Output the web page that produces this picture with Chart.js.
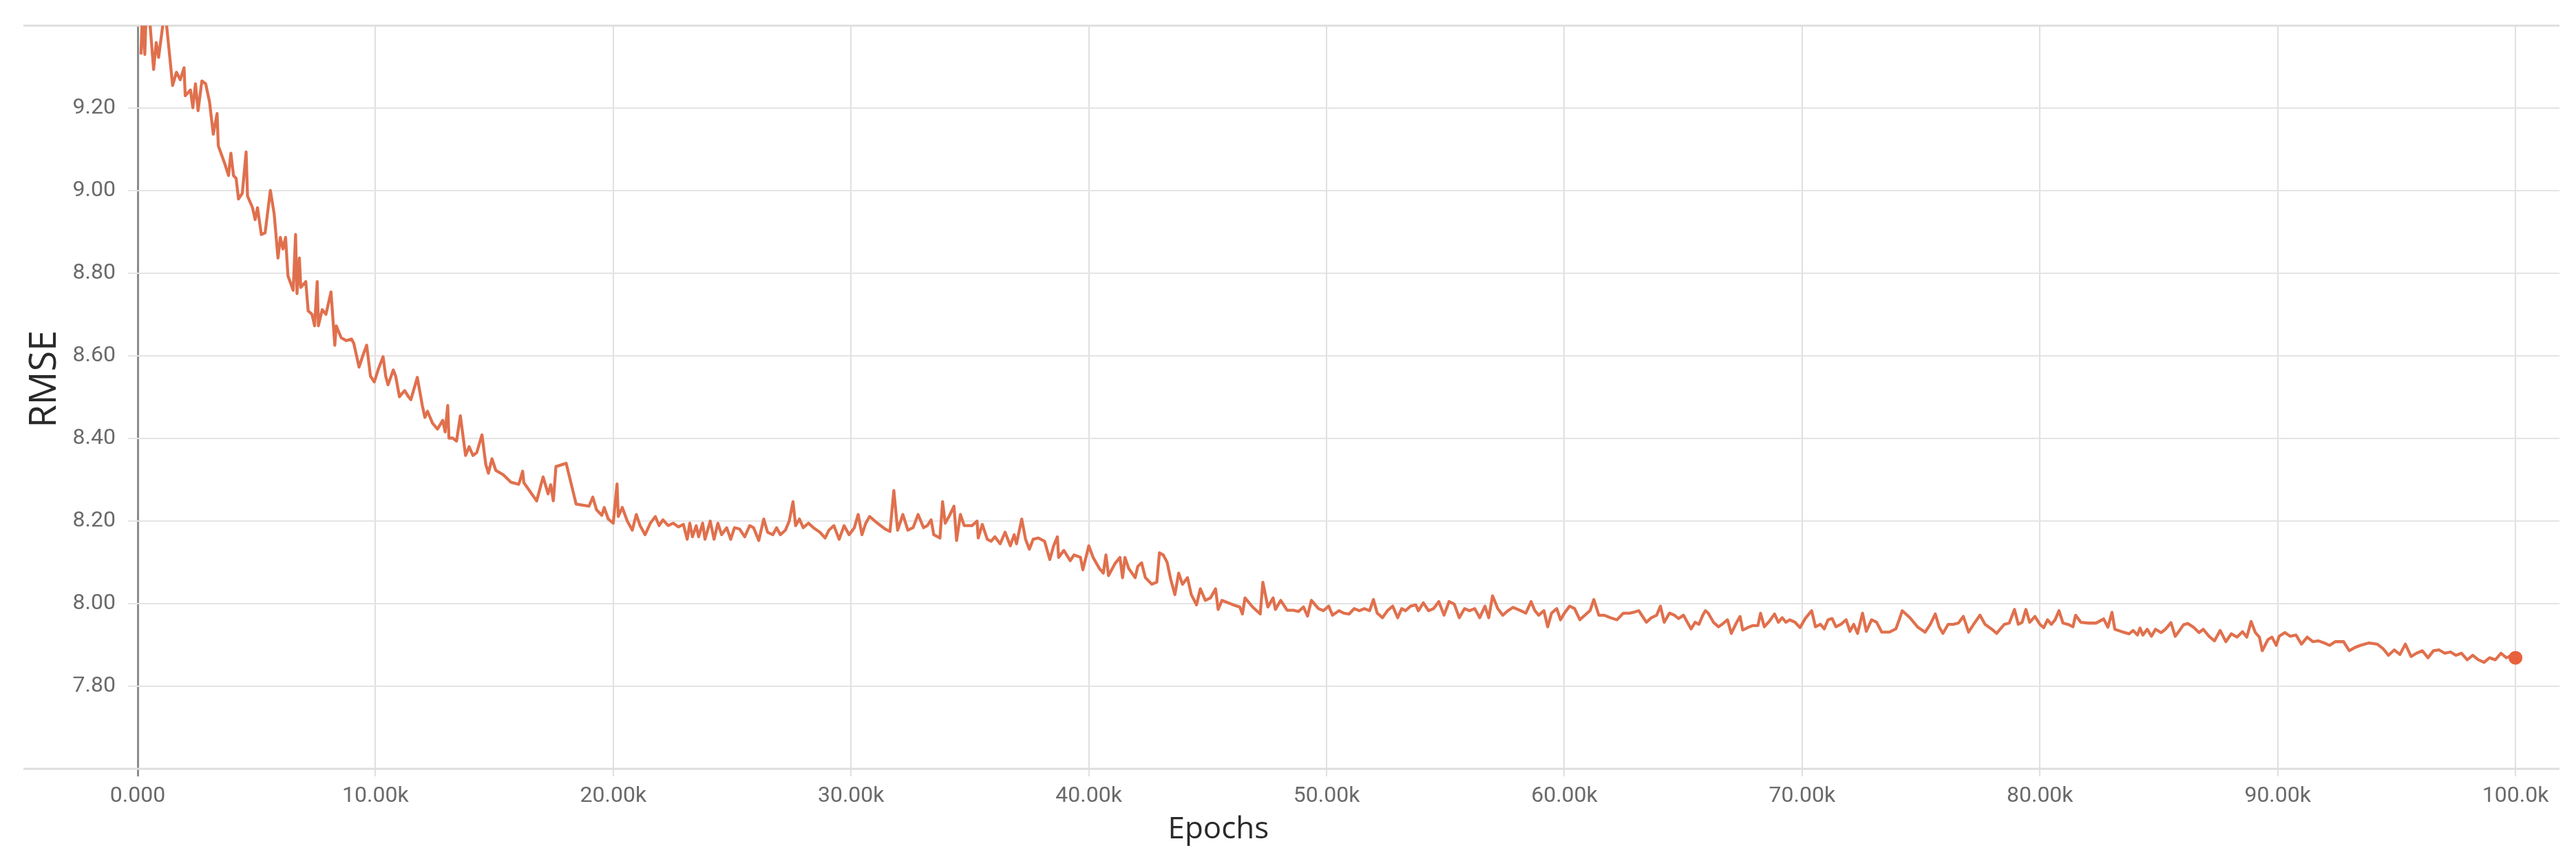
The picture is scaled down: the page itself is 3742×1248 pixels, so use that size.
<!DOCTYPE html>
<html>
<head>
<meta charset="utf-8">
<script src="https://cdn.jsdelivr.net/npm/chart.js@4.4.1/dist/chart.umd.min.js"></script>
<style>
html,body{margin:0;padding:0;background:#ffffff;}
#wrap{width:3742px;height:1248px;position:relative;}
</style>
</head>
<body>
<div id="wrap"><canvas id="c" width="3742" height="1248"></canvas></div>
<script>
// Epochs (in thousands)
const epochsK = [
0.14,0.19,0.30,0.35,0.51,0.67,0.78,0.88,1.10,1.20,1.47,1.63,1.79,1.95,2.00,2.22,2.32,2.43,2.54,2.70,
2.86,3.02,3.18,3.34,3.39,3.66,3.82,3.92,4.03,4.14,4.24,4.40,4.56,4.62,4.83,4.94,5.04,5.20,5.36,5.58,
5.74,5.90,6.00,6.11,6.22,6.32,6.54,6.64,6.70,6.80,6.86,7.07,7.17,7.33,7.44,7.55,7.60,7.76,7.92,8.13,
8.29,8.35,8.56,8.77,8.99,9.09,9.31,9.47,9.63,9.79,9.95,10.11,10.32,10.43,10.53,10.75,10.85,11.01,11.12,11.23,
11.39,11.49,11.76,11.97,12.08,12.19,12.40,12.61,12.83,12.93,13.04,13.09,13.25,13.41,13.57,13.79,13.94,14.10,14.26,14.48,
14.64,14.75,14.90,15.06,15.38,15.70,16.02,
16.08,16.19,16.24,16.51,16.78,17.05,17.26,17.37,17.48,17.59,18.02,18.44,18.98,19.14,19.30,19.52,19.62,19.79,20.00,20.16,
20.21,20.38,20.59,20.80,20.97,21.13,21.34,21.56,21.77,21.93,22.09,22.31,22.52,22.74,22.95,23.11,23.22,23.33,23.49,23.59,
23.76,23.86,24.08,24.24,24.40,24.56,24.77,24.94,25.10,25.31,25.53,25.74,25.90,26.12,26.33,26.49,26.71,26.87,27.03,27.24,
27.40,27.56,27.67,27.83,27.99,28.21,28.42,28.69,28.91,29.07,29.28,29.50,29.71,29.92,30.14,30.30,30.46,30.62,30.78,31.11,
31.43,31.64,31.80,31.96,32.18,32.39,32.61,32.82,
33.05,33.21,33.37,33.48,33.74,33.85,33.96,34.12,34.33,34.44,34.60,34.76,35.09,35.30,35.35,35.52,35.73,35.89,36.05,36.27,
36.48,36.70,36.86,36.96,37.18,37.34,37.50,37.66,37.88,38.14,38.36,38.52,38.68,38.73,38.95,39.22,39.38,39.65,39.75,40.00,
40.18,40.45,40.61,40.72,40.83,41.09,41.31,41.42,41.52,41.68,41.95,42.06,42.22,42.38,42.65,42.86,42.97,43.13,43.29,43.45,
43.62,43.78,43.94,44.15,44.31,44.53,44.69,44.90,45.12,45.33,45.44,45.60,45.82,46.08,46.35,46.46,46.57,46.89,47.21,47.32,
47.53,47.75,47.85,48.07,48.34,48.61,48.82,49.03,49.20,49.36,
49.66,49.87,50.09,50.25,50.52,50.73,50.95,51.16,51.38,51.59,51.81,51.97,52.13,52.35,52.56,52.78,52.99,53.16,53.32,53.53,
53.75,53.86,54.07,54.29,54.50,54.72,54.94,55.15,55.37,55.58,55.80,56.01,56.23,56.44,56.66,56.82,56.98,57.20,57.41,57.63,
57.84,58.17,58.38,58.60,58.76,58.92,59.14,59.30,59.46,59.68,59.84,60.00,60.22,60.43,60.65,60.86,61.08,61.24,61.45,61.67,
61.94,62.21,62.48,62.75,62.96,63.13,63.45,63.66,63.88,64.04,64.20,64.42,64.63,64.80,65.01,65.17,65.33,65.50,65.66,65.82,
65.93,
66.05,66.27,66.48,66.70,66.86,67.02,67.23,67.39,67.50,67.71,67.93,68.14,68.25,68.41,68.63,68.84,69.00,69.16,69.32,69.48,
69.70,69.91,70.13,70.40,70.56,70.77,70.93,71.09,71.26,71.42,71.63,71.85,72.01,72.17,72.33,72.54,72.70,72.92,73.13,73.35,
73.67,73.94,74.10,74.21,74.53,74.85,75.17,75.39,75.60,75.76,75.92,76.14,76.35,76.57,76.78,77.00,77.21,77.48,77.69,77.96,
78.18,78.50,78.71,78.93,79.09,79.25,79.41,79.57,79.79,80.00,80.16,80.32,80.48,80.64,80.80,80.97,81.18,81.39,81.50,81.72,
82.04,82.36,
82.68,82.86,83.03,83.15,83.45,83.75,83.92,84.10,84.21,84.33,84.51,84.69,84.86,85.10,85.28,85.51,85.69,85.87,86.04,86.22,
86.46,86.69,86.87,87.11,87.34,87.58,87.82,88.05,88.29,88.52,88.70,88.88,89.06,89.23,89.35,89.59,89.76,89.94,90.06,90.30,
90.53,90.77,91.00,91.24,91.48,91.71,91.95,92.18,92.42,92.77,93.01,93.25,93.48,93.84,94.19,94.43,94.66,94.90,95.14,95.37,
95.61,95.84,96.08,96.32,96.55,96.79,97.02,97.26,97.50,97.73,97.97,98.20,98.44,98.68,98.91,99.15,99.39,99.62,99.86,100.0
];

// RMSE values
const rmse = [
9.33,9.42,9.33,9.42,9.41,9.294,9.359,9.323,9.42,9.41,9.255,9.287,9.269,9.298,9.230,9.244,9.201,9.259,9.194,9.266,
9.259,9.216,9.137,9.187,9.109,9.066,9.037,9.091,9.037,9.030,8.980,8.994,9.094,8.987,8.959,8.930,8.959,8.894,8.898,9.001,
8.944,8.837,8.887,8.859,8.887,8.794,8.759,8.894,8.751,8.837,8.766,8.780,8.709,8.701,8.673,8.780,8.673,8.712,8.701,8.755,
8.626,8.673,8.644,8.637,8.641,8.630,8.573,8.601,8.626,8.551,8.537,8.566,8.598,8.551,8.530,8.566,8.551,8.501,8.509,8.516,
8.501,8.494,8.548,8.480,8.451,8.466,8.437,8.423,8.444,8.416,8.480,8.401,8.401,8.394,8.455,8.359,8.380,8.359,8.366,8.409,
8.337,8.316,8.351,8.323,8.312,8.294,8.289,
8.299,8.321,8.293,8.271,8.249,8.307,8.266,8.288,8.249,8.332,8.340,8.241,8.236,8.258,8.227,8.214,8.233,8.205,8.195,8.290,
8.211,8.233,8.200,8.178,8.216,8.189,8.167,8.195,8.211,8.189,8.203,8.189,8.195,8.186,8.192,8.156,8.195,8.162,8.189,8.162,
8.195,8.156,8.200,8.156,8.195,8.167,8.184,8.156,8.184,8.181,8.162,8.189,8.184,8.153,8.205,8.173,8.167,8.184,8.167,8.178,
8.200,8.247,8.189,8.205,8.184,8.195,8.184,8.173,8.159,8.178,8.189,8.156,8.189,8.167,8.184,8.216,8.167,8.195,8.211,8.195,
8.181,8.175,8.274,8.178,8.216,8.178,8.184,8.216,
8.184,8.189,8.203,8.167,8.159,8.247,8.195,8.211,8.236,8.153,8.216,8.189,8.189,8.200,8.159,8.192,8.156,8.151,8.162,8.145,
8.173,8.140,8.167,8.145,8.205,8.156,8.132,8.156,8.159,8.151,8.107,8.140,8.162,8.112,8.129,8.104,8.118,8.112,8.082,8.140,
8.112,8.085,8.074,8.118,8.068,8.096,8.112,8.063,8.112,8.085,8.063,8.090,8.099,8.063,8.047,8.052,8.123,8.118,8.101,8.058,
8.022,8.074,8.047,8.063,8.022,7.997,8.036,8.008,8.014,8.036,7.986,8.008,8.003,7.997,7.992,7.975,8.014,7.992,7.975,8.052,
7.992,8.014,7.986,8.008,7.984,7.984,7.981,7.992,7.970,8.008,
7.988,7.983,7.994,7.972,7.983,7.977,7.975,7.988,7.983,7.988,7.983,8.010,7.977,7.966,7.983,7.994,7.966,7.988,7.983,7.994,
7.997,7.983,8.002,7.983,7.988,8.005,7.972,8.005,7.999,7.966,7.988,7.983,7.988,7.966,7.994,7.966,8.019,7.988,7.972,7.983,
7.991,7.983,7.977,8.005,7.983,7.972,7.983,7.944,7.977,7.988,7.961,7.977,7.994,7.988,7.961,7.972,7.983,8.010,7.972,7.972,
7.966,7.961,7.977,7.977,7.980,7.983,7.955,7.966,7.972,7.994,7.955,7.977,7.972,7.964,7.972,7.955,7.939,7.955,7.950,7.972,
7.983,
7.977,7.955,7.944,7.953,7.961,7.928,7.953,7.969,7.936,7.942,7.947,7.947,7.977,7.944,7.958,7.975,7.955,7.966,7.955,7.961,
7.955,7.942,7.964,7.983,7.944,7.950,7.939,7.961,7.964,7.944,7.950,7.961,7.933,7.950,7.928,7.977,7.933,7.961,7.955,7.931,
7.931,7.939,7.964,7.983,7.966,7.944,7.931,7.950,7.975,7.944,7.928,7.950,7.950,7.953,7.969,7.931,7.950,7.972,7.950,7.939,
7.928,7.950,7.953,7.986,7.950,7.955,7.986,7.955,7.969,7.950,7.942,7.961,7.950,7.961,7.983,7.953,7.950,7.944,7.972,7.955,
7.953,7.953,
7.963,7.943,7.979,7.938,7.932,7.927,7.935,7.924,7.941,7.924,7.938,7.921,7.938,7.930,7.938,7.954,7.921,7.935,7.949,7.952,
7.943,7.930,7.938,7.921,7.910,7.935,7.908,7.927,7.919,7.932,7.919,7.957,7.930,7.919,7.886,7.913,7.919,7.899,7.921,7.930,
7.921,7.924,7.902,7.919,7.908,7.910,7.905,7.899,7.908,7.908,7.886,7.894,7.899,7.905,7.902,7.891,7.875,7.888,7.877,7.902,
7.872,7.880,7.886,7.869,7.886,7.888,7.880,7.883,7.875,7.880,7.864,7.875,7.864,7.858,7.869,7.864,7.880,7.869,7.875,7.869
];

// Axis ticks
const xTickValues = [0,10,20,30,40,50,60,70,80,90,100];
const xTickLabels = ['0.000','10.00k','20.00k','30.00k','40.00k','50.00k','60.00k','70.00k','80.00k','90.00k','100.0k'];
const yTickValues = [7.8,8.0,8.2,8.4,8.6,8.8,9.0,9.2];
const yTickLabels = ['7.80','8.00','8.20','8.40','8.60','8.80','9.00','9.20'];
const xTitle = 'Epochs';
const yTitle = 'RMSE';

const n = Math.min(epochsK.length, rmse.length);
const points = [];
for (let i = 0; i < n; i++) points.push({x: epochsK[i], y: rmse[i]});
const lastIdx = points.length - 1;

const framePlugin = {
  id: 'frame',
  beforeDatasetsDraw(chart) {
    const {ctx, chartArea} = chart;
    ctx.save();
    ctx.strokeStyle = '#dedede';
    ctx.lineWidth = 3;
    ctx.beginPath();
    ctx.moveTo(chartArea.left - 166, chartArea.top);
    ctx.lineTo(chartArea.right, chartArea.top);
    ctx.moveTo(chartArea.left - 166, chartArea.bottom);
    ctx.lineTo(chartArea.right, chartArea.bottom);
    ctx.stroke();
    ctx.restore();
  },
  afterDraw(chart) {
    const {ctx, chartArea, scales} = chart;
    ctx.save();
    ctx.fillStyle = '#2a2a2a';
    ctx.textAlign = 'center';
    ctx.textBaseline = 'middle';
    ctx.font = '44px "Open Sans"';
    ctx.fillText(xTitle, scales.x.getPixelForValue(45.45), chartArea.bottom + 88);
    ctx.translate(66, scales.y.getPixelForValue(8.544));
    ctx.rotate(-Math.PI / 2);
    ctx.font = '54px "Open Sans"';
    ctx.fillText(yTitle, 0, 0);
    ctx.restore();
  }
};

new Chart(document.getElementById('c'), {
  type: 'line',
  data: {
    datasets: [{
      data: points,
      borderColor: '#e0704d',
      borderWidth: 4.3,
      borderJoinStyle: 'round',
      tension: 0,
      pointRadius: ctx => ctx.dataIndex === lastIdx ? 10 : 0,
      pointBackgroundColor: '#e8613d',
      pointBorderWidth: 0,
      pointHoverRadius: 0
    }]
  },
  options: {
    responsive: false,
    devicePixelRatio: 1,
    animation: false,
    layout: {padding: {top: 26, right: 24, left: 0, bottom: 0}},
    plugins: {legend: {display: false}, tooltip: {enabled: false}},
    scales: {
      x: {
        type: 'linear',
        min: 0,
        max: 101.85,
        afterBuildTicks: s => { s.ticks = xTickValues.map(v => ({value: v})); },
        afterFit: s => { s.height = 131; },
        ticks: {
          callback: (v, i) => xTickLabels[i],
          font: {family: 'Roboto', size: 32},
          color: '#6a6a6a',
          padding: 10,
          maxRotation: 0,
          autoSkip: false
        },
        grid: {
          color: c => (c.tick && c.tick.value === 0) ? '#8c8c8c' : '#e0e0e0',
          lineWidth: c => (c.tick && c.tick.value === 0) ? 3 : 2,
          tickLength: 11,
          drawTicks: true
        },
        border: {display: false}
      },
      y: {
        type: 'linear',
        min: 7.6,
        max: 9.4,
        afterBuildTicks: s => { s.ticks = yTickValues.map(v => ({value: v})); },
        afterFit: s => { s.width = 200; },
        ticks: {
          callback: (v, i) => yTickLabels[i],
          font: {family: 'Roboto', size: 32},
          color: '#6a6a6a',
          padding: 18
        },
        grid: {
          color: '#e4e4e4',
          lineWidth: 2,
          tickLength: 14,
          drawTicks: true
        },
        border: {display: false}
      }
    }
  },
  plugins: [framePlugin]
});
</script>
</body>
</html>
